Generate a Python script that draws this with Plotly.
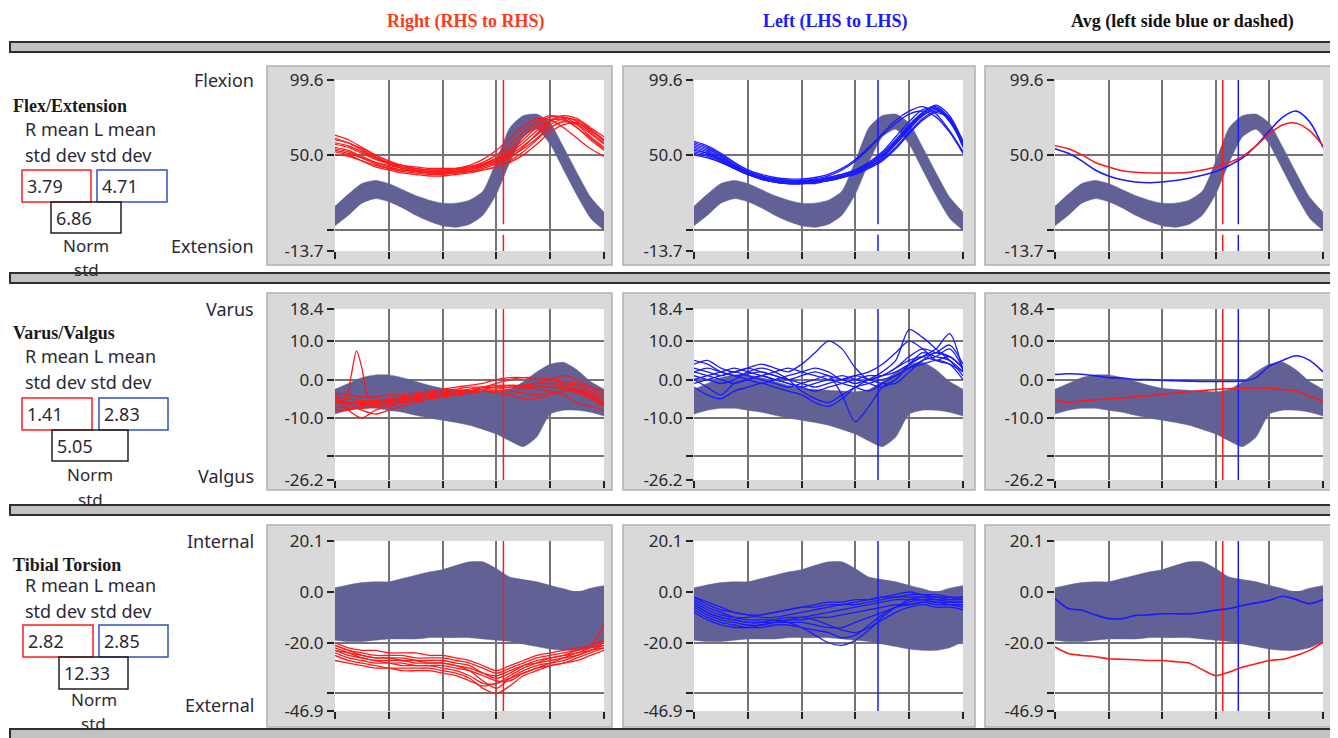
import plotly.graph_objects as go

# ---------------- data ----------------
pct = list(range(0, 101, 5))

# normative bands (same norm in each column of a row)
flex_norm_upper = [16, 24, 31, 33, 31, 27, 23, 20, 18, 18, 20, 26, 46, 68, 76, 77, 71, 55, 38, 22, 12]
flex_norm_lower = [3, 10, 18, 21, 19, 15, 10, 6, 3, 2, 4, 10, 24, 45, 62, 67, 57, 40, 23, 8, 0]
varus_norm_upper = [-2.5, -1, 0.5, 1.2, 1.2, 0.5, -0.5, -1.5, -2.3, -2.6, -2.8, -3, -3.2, -2.6, -0.6, 2, 4, 4.5, 2.5, -0.5, -2.5]
varus_norm_lower = [-9, -8, -7.5, -7.5, -8, -8.5, -9.3, -10, -10.6, -11.2, -11.9, -13, -14.2, -16, -17.5, -15, -9, -8, -8, -8.5, -9.5]
torsion_norm_upper = [1.7, 2.8, 3.7, 4, 4, 5.3, 6.6, 7.9, 8.8, 10.5, 11.9, 11.9, 9.2, 5.9, 4.9, 4, 2.6, 1.3, 0, 1.5, 2.5]
torsion_norm_lower = [-19, -19.5, -19.5, -19, -18.5, -18.5, -18.5, -18, -18, -18, -18, -18.5, -19, -19.5, -20.5, -21.5, -22.5, -23, -23, -22, -19.5]

# Flex/Extension trials
flex_right_trials = [
    [60, 58, 54, 49, 45, 42, 40, 39, 39, 40, 42, 45, 50, 57, 65, 72, 76, 74, 68, 60, 53],
    [55, 53, 49, 45, 42, 40, 39, 38, 38, 38, 39, 41, 44, 48, 55, 64, 72, 75, 72, 65, 58],
    [52, 50, 46, 42, 40, 38, 37, 36, 36, 37, 38, 40, 42, 46, 52, 60, 68, 72, 70, 64, 57],
    [58, 56, 52, 48, 45, 43, 42, 41, 41, 41, 42, 44, 47, 52, 60, 68, 73, 73, 68, 61, 54],
    [63, 60, 55, 50, 46, 43, 41, 40, 40, 41, 43, 47, 53, 61, 69, 74, 73, 68, 61, 54, 49],
    [54, 52, 48, 44, 41, 39, 38, 37, 37, 38, 40, 43, 46, 51, 58, 66, 73, 76, 74, 68, 62],
    [50, 49, 46, 43, 41, 40, 39, 38, 38, 38, 39, 40, 42, 45, 50, 57, 65, 70, 71, 67, 60],
    [57, 55, 51, 47, 44, 42, 41, 40, 40, 40, 41, 43, 46, 50, 56, 63, 70, 74, 73, 67, 59],
    [61, 58, 53, 48, 44, 41, 39, 38, 38, 39, 41, 44, 48, 54, 62, 70, 75, 75, 70, 62, 55],
    [53, 51, 48, 45, 43, 41, 40, 39, 39, 39, 40, 42, 45, 49, 54, 61, 68, 72, 71, 66, 60],
]
flex_left_trials = [
    [57, 54, 49, 43, 38, 35, 33, 32, 32, 33, 35, 37, 40, 45, 52, 62, 72, 80, 81, 72, 57],
    [52, 50, 46, 41, 37, 34, 32, 31, 31, 32, 33, 35, 38, 42, 48, 57, 67, 76, 80, 73, 56],
    [59, 56, 51, 45, 40, 37, 35, 34, 34, 35, 37, 41, 47, 55, 64, 73, 79, 82, 77, 66, 52],
    [54, 51, 46, 41, 37, 34, 32, 31, 31, 32, 34, 36, 39, 43, 49, 58, 68, 77, 81, 74, 58],
    [50, 48, 45, 41, 37, 35, 33, 32, 32, 32, 33, 35, 38, 42, 47, 55, 65, 74, 79, 75, 59],
    [56, 53, 48, 43, 39, 36, 34, 33, 33, 34, 36, 40, 46, 54, 63, 71, 77, 79, 75, 65, 51],
    [53, 51, 47, 42, 38, 35, 33, 32, 32, 33, 34, 36, 39, 44, 51, 60, 70, 78, 82, 74, 56],
    [58, 55, 50, 44, 39, 36, 34, 33, 33, 33, 35, 37, 40, 44, 50, 59, 69, 78, 83, 76, 58],
    [55, 52, 47, 42, 38, 35, 33, 32, 32, 33, 34, 36, 39, 43, 49, 58, 68, 76, 80, 73, 55],
    [51, 49, 45, 41, 37, 34, 32, 31, 31, 31, 33, 35, 37, 41, 46, 54, 64, 73, 78, 74, 57],
]
flex_right_mean = [56, 54, 50, 45, 42, 39.5, 38.5, 38, 38, 38, 38.5, 40, 42, 45, 49, 56, 64, 70, 71, 66, 56]
flex_left_mean = [54, 51, 46, 40, 36, 33.5, 32, 31.5, 32, 33, 34.5, 36.5, 39, 43, 48, 56, 66, 75, 79, 72, 55]

# Varus/Valgus trials
varus_right_trials = [
    [-5, -6, -6, -6, -5.5, -5, -4.5, -4, -3.5, -3, -3, -2.5, -2, -2, -1.5, -1, -1, -1.5, -2.5, -4, -6],
    [-4, -8, -10, -8, -7, -6, -5.5, -5, -4.5, -4, -3.5, -3, -3, -2.5, -2.5, -2, -2, -2.5, -3.5, -5, -7],
    [-3.5, -4, -4.5, -4.5, -4, -4, -3.5, -3, -2.5, -2, -1.5, -1, 0, 0.5, 0.5, 0, 0, -1, -1.5, -3, -5],
    [-7, -7.5, -7.5, -7, -6.5, -6, -5.5, -5, -4.5, -4, -3.5, -3, -3, -3, -3.5, -4, -3.5, -3, -3, -4.5, -6.5],
    [-5.5, -6, -6.5, -6.5, -6, -5.5, -5, -4.5, -4, -3.5, -3, -2, -1, 0, 0.5, 0.5, 0, -0.5, -1, -2, -3],
    [-6, -6.5, -8, -9, -8, -7, -6, -5, -4.5, -4, -3.5, -3, -3.5, -4, -5, -5, -4, -3, -2.5, -3.5, -6],
    [-4.5, -5, -5.5, -5.5, -5, -4.5, -4, -3.5, -3, -2.5, -2, -2, -2, -1.5, -1.5, -1, 0, 1, 0, -2, -4],
    [-8, -8, -7, -6, -5.5, -5, -4.5, -4, -3.5, -3, -2.5, -2, -1.5, -1.5, -2, -2.5, -3, -4, -6, -7, -8],
]
varus_right_spike_pct = [0, 4, 6, 8, 10, 12, 15, 20, 25, 30, 35, 40, 45, 50, 55, 60, 65, 70, 75, 80, 85, 90, 95, 100]
varus_right_spike = [-6, -5, 1, 7.5, 3, -4, -7, -6, -5.5, -5, -4.5, -4, -3.5, -3, -2.5, -2.5, -2, -2, -1.5, -2, -2, -3, -4.5, -7]
varus_left_trials = [
    [2, 3, 2, 1, 1.5, 2, 1, 0, 1, 2, 1, 0, -1, 0, 1, 3, 5, 6, 5, 6, 3],
    [0, -2, -4, -1, 0, 1, 0, -1, -2, -1, 0, 1, 0, -1, -2, 0, 4, 7, 6, 5, 2],
    [4, 5, 3, 2, 3, 4, 3, 2, 4, 7, 10, 8, 3, 0, 1, 3, 6, 8, 7, 6, 3],
    [-2, -4, -5, -3, -2, -1, -2, -3, -4, -6, -7, -5, -2, 0, 2, 5, 13, 11, 8, 5, 1],
    [1, 0, -1, 0, 2, 3, 2, 0, -3, -5, -6, -4, -2, -1, 0, 1, 3, 5, 6, 8, 3],
    [3, 2, 1, 2, 1, 0, -1, -2, -1, 0, 1, -4, -11, -7, -2, 0, 4, 6, 7, 9, 4],
    [5, 4, 2, 1, 0, -1, 0, 1, 2, 3, 2, 0, 1, 2, 4, 7, 10, 8, 5, 4, 2],
    [0, 1, 2, 3, 2, 1, 0, -1, -2, -3, -2, -1, 0, 1, 1, 2, 4, 6, 8, 12, 2],
    [2, 1, 0, -1, 0, 1, 2, 3, 2, 1, 0, -1, -2, -3, -1, 1, 3, 4, 5, 4, 0],
    [-1, 0, 1, 2, 3, 2, 1, 0, -1, -2, -1, 0, 1, 0, -1, -1, 2, 5, 7, 6, 3],
]
varus_right_mean = [-5.5, -6, -5.5, -5.3, -5, -4.8, -4.5, -4.2, -3.9, -3.5, -3.2, -2.9, -2.6, -2.4, -2.3, -2.1, -2.3, -2.6, -3, -4.3, -5.7]
varus_left_mean = [1.3, 1.5, 1.4, 1, 0.5, 0.4, 0, 0, -0.2, -0.3, -0.4, -0.5, -0.5, -0.5, -0.4, 0.5, 3.5, 5, 6.2, 5, 2]

# Tibial Torsion trials
torsion_right_trials = [
    [-21, -23, -24, -25, -25, -25, -26, -26, -26, -27, -28, -30, -32, -30, -28, -26, -25, -24, -23, -22, -20],
    [-23, -25, -26, -27, -27, -27, -28, -28, -28, -29, -31, -35, -38, -34, -31, -29, -28, -27, -25, -23, -20],
    [-25, -27, -28, -29, -30, -30, -30, -30, -31, -32, -34, -38, -40, -37, -33, -31, -29, -28, -26, -24, -22],
    [-20, -22, -23, -23, -24, -24, -24, -25, -25, -26, -27, -29, -31, -29, -27, -25, -24, -23, -22, -21, -13],
    [-22, -24, -26, -27, -28, -28, -29, -29, -30, -31, -33, -36, -36, -33, -30, -28, -26, -25, -24, -22, -21],
    [-24, -26, -27, -28, -28, -29, -29, -29, -29, -30, -31, -33, -35, -35, -32, -30, -28, -26, -24, -23, -21],
    [-27, -28, -29, -30, -30, -31, -31, -31, -32, -33, -35, -37, -36, -34, -32, -30, -29, -28, -27, -25, -23],
    [-21, -23, -25, -26, -26, -26, -27, -27, -27, -28, -29, -32, -34, -32, -29, -27, -26, -25, -23, -21, -19],
    [-23, -24, -25, -26, -26, -27, -27, -28, -28, -29, -30, -32, -33, -31, -29, -28, -27, -26, -25, -23, -22],
]
torsion_left_trials = [
    [-2, -5, -7, -8, -9, -9, -8, -7, -6, -6, -5, -5, -4, -3, -2, -2, -1, -1, -2, -2, -2],
    [-5, -8, -10, -11, -12, -12, -11, -10, -10, -9, -8, -7, -6, -5, -4, -3, -3, -3, -4, -4, -4],
    [-8, -11, -13, -14, -14, -14, -13, -13, -14, -15, -16, -18, -17, -13, -9, -6, -5, -4, -5, -5, -5],
    [-3, -6, -8, -10, -11, -11, -11, -12, -14, -17, -20, -21, -19, -15, -10, -6, -3, -2, -2, -3, -3],
    [-6, -9, -11, -12, -13, -13, -12, -11, -11, -10, -10, -9, -8, -7, -6, -5, -5, -4, -4, -5, -6],
    [-4, -7, -9, -10, -10, -9, -8, -7, -6, -5, -4, -4, -3, -3, -2, -1, 0, -1, -1, -2, -3],
    [-7, -10, -12, -13, -14, -13, -12, -11, -10, -11, -13, -15, -16, -14, -11, -8, -6, -5, -6, -6, -7],
    [-2, -4, -6, -8, -9, -10, -10, -9, -8, -7, -6, -5, -5, -4, -3, -2, -2, -2, -3, -3, -2],
    [-5, -8, -10, -11, -12, -12, -12, -12, -12, -13, -14, -14, -12, -10, -8, -6, -4, -3, -3, -4, -4],
]
torsion_right_mean = [-21.7, -24.2, -25, -25.5, -26.3, -26.5, -26.7, -27, -27, -27.5, -28, -30.6, -33, -31.5, -29.6, -28.3, -27, -26.5, -25, -23, -19.8]
torsion_left_mean = [-2.6, -6.5, -7.2, -9, -10.5, -10.5, -9.2, -9, -8.6, -8.6, -8.6, -8, -7.2, -6.5, -5.3, -4.3, -3.3, -1.7, -3, -4.6, -3]

right_toe_off = 62.6
left_toe_off = 68.4

row_titles = ["Flex/Extension", "Varus/Valgus", "Tibial Torsion"]
top_labels = ["Flexion", "Varus", "Internal"]
bottom_labels = ["Extension", "Valgus", "External"]
r_std = ["3.79", "1.41", "2.82"]
l_std = ["4.71", "2.83", "2.85"]
norm_std = ["6.86", "5.05", "12.33"]
col_titles = ["Right (RHS to RHS)", "Left (LHS to LHS)", "Avg (left side blue or dashed)"]

y_ranges = [(-13.7, 99.6), (-26.2, 18.4), (-46.9, 20.1)]
y_tickvals = [[-13.7, 0, 50, 99.6], [-26.2, -20, -10, 0, 10, 18.4], [-46.9, -40, -20, 0, 20.1]]
y_ticktext = [["-13.7", "", "50.0", "99.6"], ["-26.2", "", "-10.0", "0.0", "10.0", "18.4"],
              ["-46.9", "", "-20.0", "0.0", "20.1"]]
x_tickvals = [0, 20, 40, 60, 80, 100]

# ---------------- styling / layout ----------------
W, H = 1338, 738
OX, OY = 8, 8          # page body margin of the html
RED = "#ff1a1a"
BLUE = "#1a1aff"
BAND = "#616196"
TXT = "#2d2836"
col_px = [(335, 604), (694, 963), (1055, 1323)]
row_px = [(80, 251), (309, 480), (541, 711)]
panel_col_px = [(267, 612), (623, 975), (985, 1332)]
panel_row_px = [(66, 265), (293, 490), (525, 727)]


def fx(p):
    return (p - OX) / W


def fy(p):
    return 1 - (p - OY) / H


fig = go.Figure()

norm_bands = [(flex_norm_lower, flex_norm_upper), (varus_norm_lower, varus_norm_upper),
              (torsion_norm_lower, torsion_norm_upper)]
right_trials = [flex_right_trials, varus_right_trials, torsion_right_trials]
left_trials = [flex_left_trials, varus_left_trials, torsion_left_trials]
right_means = [flex_right_mean, varus_right_mean, torsion_right_mean]
left_means = [flex_left_mean, varus_left_mean, torsion_left_mean]


def axn(i):
    return ("x" if i == 1 else f"x{i}", "y" if i == 1 else f"y{i}")


def line(i, x, y, color, width, shape="spline"):
    xa, ya = axn(i)
    fig.add_trace(go.Scatter(x=x, y=y, mode="lines", xaxis=xa, yaxis=ya,
                             line=dict(color=color, width=width, shape=shape, smoothing=0.8),
                             hoverinfo="skip", showlegend=False))


def vline(i, r, xv, color):
    lo, hi = y_ranges[r]
    if r == 0:
        line(i, [xv, xv, None, xv, xv], [hi, 4, None, -3, lo], color, 1.5, "linear")
    else:
        line(i, [xv, xv], [hi, lo], color, 1.5, "linear")


layout_axes = {}
for r in range(3):
    for c in range(3):
        i = r * 3 + c + 1
        xa, ya = axn(i)
        lower, upper = norm_bands[r]
        # band
        fig.add_trace(go.Scatter(x=pct, y=lower, mode="lines", xaxis=xa, yaxis=ya,
                                 line=dict(color=BAND, width=0.5, shape="spline", smoothing=0.6),
                                 hoverinfo="skip", showlegend=False))
        fig.add_trace(go.Scatter(x=pct, y=upper, mode="lines", xaxis=xa, yaxis=ya, fill="tonexty",
                                 fillcolor=BAND,
                                 line=dict(color=BAND, width=0.5, shape="spline", smoothing=0.6),
                                 hoverinfo="skip", showlegend=False))
        if c == 0:
            for tr in right_trials[r]:
                line(i, pct, tr, RED, 1.3)
            if r == 1:
                line(i, varus_right_spike_pct, varus_right_spike, RED, 1.3)
            vline(i, r, right_toe_off, RED)
        elif c == 1:
            for tr in left_trials[r]:
                line(i, pct, tr, BLUE, 1.3)
            vline(i, r, left_toe_off, BLUE)
        else:
            vline(i, r, right_toe_off, RED)
            vline(i, r, left_toe_off, BLUE)
            line(i, pct, left_means[r], BLUE, 1.6)
            line(i, pct, right_means[r], RED, 1.6)

        x0, x1 = col_px[c]
        y0, y1 = row_px[r]
        kx = "xaxis" if i == 1 else f"xaxis{i}"
        ky = "yaxis" if i == 1 else f"yaxis{i}"
        layout_axes[kx] = dict(domain=[fx(x0), fx(x1)], anchor=ya, range=[0, 100],
                               tickvals=x_tickvals, showticklabels=False, ticks="outside",
                               ticklen=7, tickwidth=2, tickcolor="#222", showgrid=True,
                               gridcolor="#747474", gridwidth=1.5, zeroline=False,
                               showline=False, fixedrange=True, automargin=False)
        layout_axes[ky] = dict(domain=[fy(y1), fy(y0)], anchor=xa, range=list(y_ranges[r]),
                               tickvals=y_tickvals[r], ticktext=y_ticktext[r], ticks="outside",
                               ticklen=7, tickwidth=2, tickcolor="#222", showgrid=True,
                               gridcolor="#747474", gridwidth=1.5, zeroline=False,
                               showline=False, fixedrange=True, automargin=False,
                               tickfont=dict(family="Noto Sans", size=17, color="#2a2a2a"))

shapes = []
# grey panels
for (py0, py1) in panel_row_px:
    for (px0, px1) in panel_col_px:
        shapes.append(dict(type="rect", xref="paper", yref="paper", layer="below",
                           x0=fx(px0), x1=fx(px1), y0=fy(py1), y1=fy(py0),
                           fillcolor="#d9d9d9", line=dict(color="#b0b0b0", width=1.5)))
# white plot areas
for (py0, py1) in row_px:
    for (px0, px1) in col_px:
        shapes.append(dict(type="rect", xref="paper", yref="paper", layer="below",
                           x0=fx(px0), x1=fx(px1), y0=fy(py1), y1=fy(py0),
                           fillcolor="white", line=dict(width=0)))
# separator bars
for (b0, b1) in [(42, 52), (273, 283), (505, 515), (729, 739)]:
    shapes.append(dict(type="rect", xref="paper", yref="paper", layer="above",
                       x0=fx(10), x1=fx(1336), y0=fy(b1), y1=fy(b0),
                       fillcolor="#c2c2c2", line=dict(color="#2e2e2e", width=2)))

annotations = []
# column headers
head_x = [466, 835, 1182]
head_col = ["#ff3a1a", BLUE, "#111111"]
for k in range(3):
    annotations.append(dict(text=f"<b>{col_titles[k]}</b>", x=fx(head_x[k]), y=fy(22),
                            xref="paper", yref="paper", showarrow=False, xanchor="center",
                            yanchor="middle", font=dict(family="Liberation Serif", size=18,
                                                        color=head_col[k])))

# left side text blocks
row_text_y = [
    dict(t=106, rm=129, sd=155, b0=170, b1=202, b2=233, nm=245, st=269, sl=80, el=246),
    dict(t=333, rm=356, sd=382, b0=398, b1=430, b2=461, nm=475, st=499, sl=309, el=476),
    dict(t=565, rm=585, sd=611, b0=625, b1=657, b2=689, nm=699, st=723, sl=541, el=705),
]
box_x = [
    dict(r=(22, 91), l=(97, 167), n=(51, 121)),
    dict(r=(22, 92), l=(99, 168), n=(52, 128)),
    dict(r=(23, 93), l=(99, 168), n=(59, 128)),
]
sans = dict(family="Noto Sans", size=18, color=TXT)
small = dict(family="Noto Sans", size=17, color=TXT)
for r in range(3):
    ty = row_text_y[r]
    bx = box_x[r]
    annotations.append(dict(text=f"<b>{row_titles[r]}</b>", x=fx(11), y=fy(ty["t"]), xref="paper",
                            yref="paper", showarrow=False, xanchor="left", yanchor="middle",
                            font=dict(family="Liberation Serif", size=18, color="#1a1a1a")))
    annotations.append(dict(text="R mean L mean", x=fx(23), y=fy(ty["rm"]), xref="paper",
                            yref="paper", showarrow=False, xanchor="left", yanchor="middle",
                            font=sans))
    annotations.append(dict(text="std dev std dev", x=fx(23), y=fy(ty["sd"]), xref="paper",
                            yref="paper", showarrow=False, xanchor="left", yanchor="middle",
                            font=sans))
    # boxes
    for key, col, val, yy in [("r", RED, r_std[r], (ty["b0"], ty["b1"])),
                              ("l", "#3050c8", l_std[r], (ty["b0"], ty["b1"])),
                              ("n", "#222222", norm_std[r], (ty["b1"], ty["b2"]))]:
        x0, x1 = bx[key]
        shapes.append(dict(type="rect", xref="paper", yref="paper", layer="above",
                           x0=fx(x0), x1=fx(x1), y0=fy(yy[1]), y1=fy(yy[0]),
                           fillcolor="rgba(0,0,0,0)", line=dict(color=col, width=1.5)))
        annotations.append(dict(text=val, x=fx(x0 + 3), y=fy((yy[0] + yy[1]) / 2), xref="paper",
                                yref="paper", showarrow=False, xanchor="left", yanchor="middle",
                                font=sans))
    ncx = (bx["n"][0] + bx["n"][1]) / 2
    annotations.append(dict(text="Norm", x=fx(ncx), y=fy(ty["nm"]), xref="paper", yref="paper",
                            showarrow=False, xanchor="center", yanchor="middle", font=small))
    annotations.append(dict(text="std", x=fx(ncx), y=fy(ty["st"]), xref="paper", yref="paper",
                            showarrow=False, xanchor="center", yanchor="middle", font=small))
    annotations.append(dict(text=top_labels[r], x=fx(256), y=fy(ty["sl"]), xref="paper",
                            yref="paper", showarrow=False, xanchor="right", yanchor="middle",
                            font=sans))
    annotations.append(dict(text=bottom_labels[r], x=fx(256), y=fy(ty["el"]), xref="paper",
                            yref="paper", showarrow=False, xanchor="right", yanchor="middle",
                            font=sans))

fig.update_layout(width=W, height=H,
                  margin=dict(l=0, r=0, t=0, b=0, pad=0, autoexpand=False),
                  paper_bgcolor="white", plot_bgcolor="white", showlegend=False,
                  shapes=shapes, annotations=annotations, **layout_axes)

fig.write_html("out.html")
